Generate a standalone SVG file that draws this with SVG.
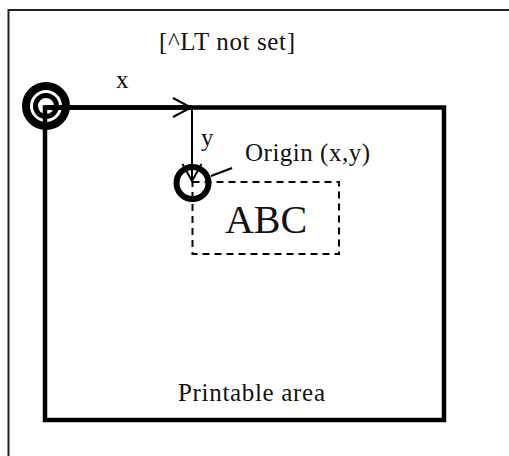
<svg xmlns="http://www.w3.org/2000/svg" width="509" height="456" viewBox="0 0 509 456">
  <style>
    .lbl { font-family: "Liberation Serif", "Times New Roman", serif; fill: #111; }
    .thin { fill: none; stroke: #000; stroke-width: 2; }
    .thick { fill: none; stroke: #000; stroke-width: 4.5; }
    .dash { fill: none; stroke: #000; stroke-width: 2; stroke-dasharray: 7 5; }
    .head { fill: none; stroke: #000; stroke-width: 2; stroke-linejoin: miter; }
  </style>
  <rect width="509" height="456" fill="#fff"/>

  <g id="frame">
    <rect x="8.5" y="10" width="520" height="470" fill="none" stroke="#222" stroke-width="2"/>
    <text class="lbl" x="227" y="50" font-size="25" text-anchor="middle" textLength="136" lengthAdjust="spacing">[^LT not set]</text>
  </g>

  <g id="printable-area">
    <rect x="45" y="107.5" width="399" height="312.5" class="thick"/>
    <text class="lbl" x="251.5" y="400.5" font-size="25" text-anchor="middle" textLength="147" lengthAdjust="spacing">Printable area</text>
  </g>

  <g id="text-box">
    <rect x="192.5" y="182" width="146.5" height="72" class="dash"/>
    <text class="lbl" x="266" y="232.5" font-size="40" text-anchor="middle">ABC</text>
  </g>

  <g id="connectors">
    <line x1="45" y1="107.5" x2="192" y2="107.5" class="thick"/>
    <polyline points="173,98 191,107.5 173,117" class="head"/>
    <line x1="192" y1="107.5" x2="192" y2="181" class="thin"/>
    <polyline points="182.5,164 192,181 201.5,164" class="head"/>
    <line x1="211" y1="176" x2="232" y2="168" class="thin"/>
    <text class="lbl" x="116" y="88" font-size="25">x</text>
    <text class="lbl" x="201" y="146" font-size="25">y</text>
  </g>

  <g id="page-origin">
    <circle cx="46" cy="106" r="20" fill="none" stroke="#000" stroke-width="8"/>
    <circle cx="46" cy="106" r="10.5" fill="none" stroke="#000" stroke-width="5"/>
    <line x1="45" y1="107.5" x2="70" y2="107.5" class="thick"/>
  </g>

  <g id="origin-point">
    <circle cx="192.5" cy="183" r="16" fill="none" stroke="#000" stroke-width="6"/>
    <text class="lbl" x="245" y="160.5" font-size="25" textLength="125" lengthAdjust="spacing">Origin (x,y)</text>
  </g>
</svg>
